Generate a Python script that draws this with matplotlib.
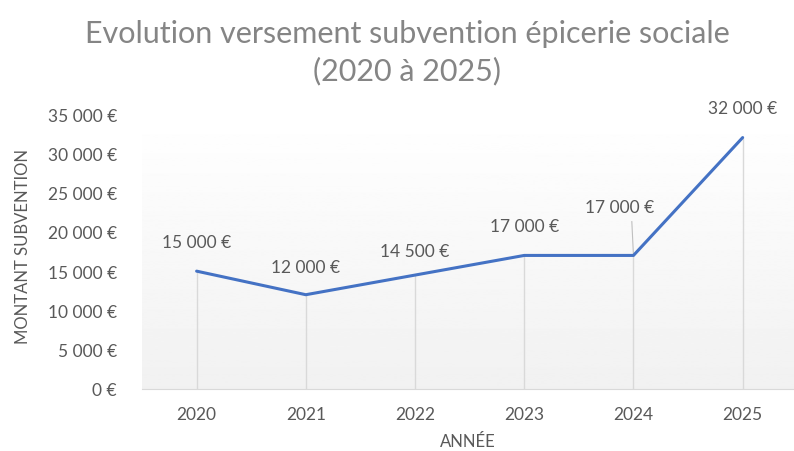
import numpy as np
import matplotlib.pyplot as plt

years = ["2020", "2021", "2022", "2023", "2024", "2025"]
montants = [15000, 12000, 14500, 17000, 17000, 32000]
yticks = [0, 5000, 10000, 15000, 20000, 25000, 30000, 35000]

plt.rcParams['font.family'] = ['Lato', 'DejaVu Sans']
txt = '#595959'

fig = plt.figure(figsize=(7.94, 4.52), dpi=100)
ax = fig.add_axes([142 / 794, 62 / 452, 652 / 794, 275 / 452])

x = np.arange(len(years))
ax.set_xlim(-0.5, len(years) - 0.53)
ax.set_ylim(0, 35000)

# fond en dégradé comme dans Excel
grad = np.linspace(0.945, 1.0, 256).reshape(-1, 1)
ax.imshow(grad, extent=[-0.5, len(years), 0, 35000], aspect='auto',
          cmap='gray', vmin=0, vmax=1, origin='lower', zorder=0)

# lignes de projection
ax.vlines(x, 0, montants, color='#d9d9d9', lw=1, zorder=1)
ax.plot(x, montants, color='#4472C4', lw=2.2, zorder=3, solid_capstyle='round')

def fmt(v):
    return f"{v:,.0f}".replace(",", " ") + " €"

offsets = [(0, 3700), (0, 3500), (0, 3100), (0, 3700), (-0.13, 6200), (0, 3800)]
for i, v in enumerate(montants):
    dx, dy = offsets[i]
    ax.text(x[i] + dx, v + dy, fmt(v), ha='center', va='center',
            fontsize=12.5, color=txt, zorder=4)
# ligne de rappel pour l'étiquette 2024
ax.plot([x[4] - 0.015, x[4]], [montants[4] + 4300, montants[4]],
        color='#bfbfbf', lw=0.8, zorder=2)

ax.set_xticks(x)
ax.set_xticklabels(years)
ax.set_yticks(yticks)
ax.set_yticklabels([fmt(v) for v in yticks])
ax.tick_params(length=0, labelsize=12.5, colors=txt)
ax.tick_params(axis='x', pad=12)
ax.tick_params(axis='y', pad=18)

for s in ['top', 'right', 'left']:
    ax.spines[s].set_visible(False)
ax.spines['bottom'].set_color('#d9d9d9')

ax.set_xlabel('ANNÉE', fontsize=12, color=txt, labelpad=8)
ax.set_ylabel('MONTANT SUBVENTION', fontsize=12, color=txt)
ax.yaxis.set_label_coords(-0.17, 0.52)

fig.suptitle('Evolution versement subvention épicerie sociale\n(2020 à 2025)',
             x=0.513, y=0.955, fontsize=22, color='#858585', linespacing=1.35)

fig.savefig('out.png', dpi=100)
